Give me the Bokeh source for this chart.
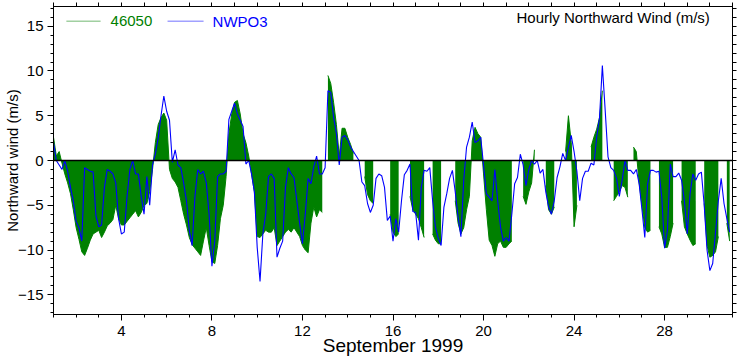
import numpy as np
from bokeh.plotting import figure
from bokeh.models import Range1d, FixedTicker, LinearAxis, Span, Label, BoxAnnotation, ColumnDataSource
from bokeh.embed import file_html
from bokeh.resources import INLINE

nan = float("nan")

# Time axis: day of September 1999, 3-hourly samples starting Sep 1 00:00
first_day = 1.0
step_days = 3.0 / 24.0

# Station 46050 northward wind (m/s), 8 samples per day (nan = missing)
wind_46050 = [
    2.6, 0.5, 1.0, -0.3, -1.5, -2.5, -3.7, -5.5,
    -7.5, -8.8, -10.2, -10.6, -9.8, -8.9, -8.2, -8.0,
    -7.8, -8.6, -8.0, -7.3, -7.0, -6.6, -5.0, -6.5,
    -7.2, -7.2, -6.8, -6.4, -6.0, -5.6, -6.3, -5.8,
    -5.0, -4.8, -3.5, -1.0, 2.0, 4.0, 4.8, 5.3,
    4.5, -1.0, -2.0, -2.4, -3.0, -4.5, -6.0, -7.2,
    -8.6, -9.4, -9.8, -10.2, -10.6, -9.0, -7.5, -9.5,
    -11.3, -11.5, -9.5, -6.5, -5.0, -1.8, 3.0, 5.2,
    6.5, 6.7, 5.2, 3.0, 2.0, 0.5, -1.5, -3.5,
    -8.5, -8.6, -8.2, -7.8, -8.0, -8.0, -7.5, -9.5,
    -9.0, -8.5, -8.0, -7.7, -8.0, -7.5, -8.0, -8.5,
    -9.5, -10.0, -10.3, -7.0, -5.2, -6.3, -5.5, -5.8,
    nan, 9.5, 8.6, 6.5, 4.0, 0.5, 3.6, 3.6,
    2.6, 1.8, 0.8, nan, nan, nan, -1.8, -3.8,
    -4.5, -4.8, nan, nan, nan, nan, nan, -6.0,
    -8.0, -8.5, -8.2, nan, nan, nan, -4.0, -5.5,
    -6.0, -6.5, -7.5, -8.6, nan, nan, -8.2, -8.9,
    -9.3, -9.3, nan, nan, nan, nan, -4.5, -7.0,
    -8.2, -7.5, -5.5, -4.0, 2.2, 3.7, 3.0, 2.6,
    -1.5, -5.5, -8.9, -9.5, -10.7, -9.3, -9.0, -9.7,
    -9.7, -9.3, -9.0, nan, nan, nan, -4.0, -4.9,
    -3.5, -2.5, 1.2, nan, nan, nan, -2.8, -5.5,
    -6.0, -5.2, nan, nan, nan, 1.0, 5.0, 2.0,
    -7.4, -5.0, nan, nan, nan, nan, 1.5, 2.6,
    3.5, 4.8, 7.8, nan, nan, nan, -4.5, -4.0,
    -3.5, -2.8, -3.0, -4.1, nan, 1.5, 1.0, -2.5,
    -5.0, -7.5, -8.0, -7.8, nan, nan, -7.4, -8.2,
    -9.7, -9.7, -8.5, -7.0, nan, nan, -4.5, -7.4,
    -8.2, -8.9, -9.5, -9.3, nan, nan, -4.8, -9.5,
    -10.8, -10.6, -10.2, -8.5, nan, nan, -7.0, -9.0,
]

# Station NWPO3 northward wind (m/s), 8 samples per day
wind_nwpo3 = [
    2.0, 0.0, -0.5, -1.0, 0.0, -1.2, -3.0, -4.5,
    -6.8, -7.5, -9.0, -0.8, -1.0, -1.2, -1.3, -6.2,
    -7.4, -7.2, -3.0, -1.0, -1.2, -1.5, -2.5, -6.5,
    -8.2, -8.0, -4.0, -1.0, 0.0, -1.5, -1.5, -4.0,
    -6.0, -1.8, -5.0, -0.5, 0.7, 2.5, 5.0, 7.2,
    5.5, 4.5, -0.2, 1.2, -0.5, -0.8, -2.5, -4.5,
    -7.8, -9.5, -4.0, -1.0, -1.5, -1.2, -2.5, -6.0,
    -11.8, -9.0, -1.8, -1.5, -1.5, -1.2, 4.6, 5.5,
    6.4, 5.2, 4.5, 3.8, -0.4, 0.0, -1.5, -3.5,
    -9.7, -13.5, -8.2, -6.0, -1.8, -1.5, -2.0, -10.8,
    -9.8, -9.0, -3.0, -0.8, -1.5, -1.9, -4.5, -7.0,
    -9.3, -6.0, -2.0, -2.6, -0.7, 0.5, -1.5, -1.5,
    -0.8, 7.8, 7.6, 4.8, 3.0, -0.5, 2.6, 2.8,
    2.3, 1.5, 1.0, 0.5, 0.0, -2.4, -2.8, -4.8,
    -5.8, -5.0, -2.0, -1.5, -1.7, -3.0, -6.7, -6.2,
    -9.0, -6.5, -8.0, -4.5, -1.6, -1.1, -0.4, -5.7,
    -5.8, -8.9, -3.0, -1.1, -1.2, -0.8, -4.5, -7.4,
    -8.7, -9.5, -5.2, -3.7, -2.0, -1.1, -3.5, -6.3,
    -8.5, -2.2, 1.5, 2.6, 4.3, 2.0, 2.2, 2.6,
    -0.5, -3.7, -4.1, -4.5, -1.0, -4.5, -7.4, -9.0,
    -8.6, -9.0, -6.0, -2.6, -1.9, 0.7, -0.5, -2.8,
    -1.0, 0.0, -0.4, 0.0, -1.4, -1.0, -3.5, -5.2,
    -6.0, -4.5, -1.9, -0.7, 0.8, 0.0, 1.5, 2.8,
    1.0, -1.2, -4.5, -2.0, -1.2, -1.2, -0.3, -0.5,
    2.6, 4.8, 10.6, 5.6, 0.4, -0.8, -1.1, -2.0,
    -4.0, -2.2, 0.0, -1.1, -1.1, -1.5, -1.0, -2.6,
    -5.5, -8.6, -2.6, -1.1, -1.1, -1.3, -1.2, -4.1,
    -9.8, -7.8, -0.4, -1.8, -1.8, -1.4, -2.2, -4.5,
    -8.2, -3.7, -1.5, -2.2, -1.5, -1.3, -5.0, -10.0,
    -12.3, -11.5, -8.0, -4.5, -2.0, -4.8, -6.5, -8.0,
]

x_major_ticks = [4, 8, 12, 16, 20, 24, 28]
x_minor_ticks = list(range(1, 32))
y_major_ticks = [-15, -10, -5, 0, 5, 10, 15]
y_minor_ticks = list(range(-17, 18))

series_names = ["46050", "NWPO3"]
title_text = "Hourly Northward Wind (m/s)"
x_label = "September 1999"
y_label = "Northward wind (m/s)"

GREEN = "#008000"
BLUE = "#0000ff"
FONT = "Liberation Sans"

n = len(wind_46050)
days = first_day + np.arange(n) * step_days
g = np.array(wind_46050, dtype=float)
b = np.array(wind_nwpo3, dtype=float)

p = figure(width=739, height=359, x_range=Range1d(1, 31), y_range=Range1d(-17.2, 17.2),
           output_backend="svg", toolbar_location=None,
           min_border_left=53, min_border_right=7, min_border_top=6, min_border_bottom=45)
p.grid.visible = False
p.outline_line_color = "black"
p.background_fill_color = "white"
p.border_fill_color = "white"


def style_axis(ax, minor_len=3):
    ax.axis_line_color = "black"
    ax.axis_line_width = 1
    ax.major_tick_line_color = "black"
    ax.minor_tick_line_color = "black"
    ax.major_tick_out = 6
    ax.major_tick_in = 0
    ax.minor_tick_out = minor_len
    ax.minor_tick_in = 0
    ax.major_label_text_font = FONT
    ax.major_label_text_color = "black"
    ax.major_label_text_font_size = "15px"
    ax.axis_label_text_font = FONT
    ax.axis_label_text_font_style = "normal"
    ax.axis_label_text_color = "black"


p.xaxis.ticker = FixedTicker(ticks=x_major_ticks, minor_ticks=x_minor_ticks)
p.yaxis.ticker = FixedTicker(ticks=y_major_ticks, minor_ticks=y_minor_ticks)
style_axis(p.xaxis[0])
style_axis(p.yaxis[0])
p.xaxis.major_label_standoff = 5
p.xaxis.axis_label = x_label
p.xaxis.axis_label_text_font_size = "19px"
p.xaxis.axis_label_standoff = -4
p.yaxis.major_label_standoff = 4
p.yaxis.axis_label = y_label
p.yaxis.axis_label_text_font_size = "15px"
p.yaxis.axis_label_standoff = -6

# mirrored tick marks on top and right (no labels)
top = LinearAxis(ticker=FixedTicker(ticks=[], minor_ticks=x_minor_ticks))
style_axis(top, minor_len=4)
top.major_label_standoff = 0
p.add_layout(top, "above")
right = LinearAxis(ticker=FixedTicker(ticks=[], minor_ticks=y_minor_ticks))
style_axis(right, minor_len=4)
right.major_label_standoff = 0
p.add_layout(right, "right")

# 46050: filled from zero, drawn per contiguous run of valid data
valid = ~np.isnan(g)
i = 0
while i < n:
    if valid[i]:
        j = i
        while j < n and valid[j]:
            j += 1
        s = ColumnDataSource(dict(day=days[i:j], g=g[i:j], zero=np.zeros(j - i)))
        p.varea(x="day", y1="zero", y2="g", source=s, fill_color=GREEN)
        p.line(x="day", y="g", source=s, line_color=GREEN, line_width=1)
        i = j
    else:
        i += 1

# zero reference line
p.add_layout(Span(location=0, dimension="width", line_color="black", line_width=1.5))

# NWPO3 line
src_b = ColumnDataSource(dict(day=days, b=b))
p.line(x="day", y="b", source=src_b, line_color=BLUE, line_width=1.1)

# legend (top-left, inside plot)
p.add_layout(BoxAnnotation(left=1.57, right=3.08, bottom=15.56, top=15.56,
                           fill_alpha=0, line_color=GREEN, line_width=1))
p.add_layout(Label(x=3.52, y=15.56, text=series_names[0], text_font=FONT,
                   text_font_size="15px", text_color=GREEN, text_baseline="middle"))
p.add_layout(BoxAnnotation(left=6.04, right=7.63, bottom=15.56, top=15.56,
                           fill_alpha=0, line_color=BLUE, line_width=1))
p.add_layout(Label(x=8.03, y=15.56, text=series_names[1], text_font=FONT,
                   text_font_size="15px", text_color=BLUE, text_baseline="middle"))

# title inside plot (top-right)
p.add_layout(Label(x=30.0, y=16.0, text=title_text, text_font=FONT,
                   text_font_size="15px", text_color="black",
                   text_align="right", text_baseline="middle"))

open("out.html", "w").write(file_html(p, INLINE))
